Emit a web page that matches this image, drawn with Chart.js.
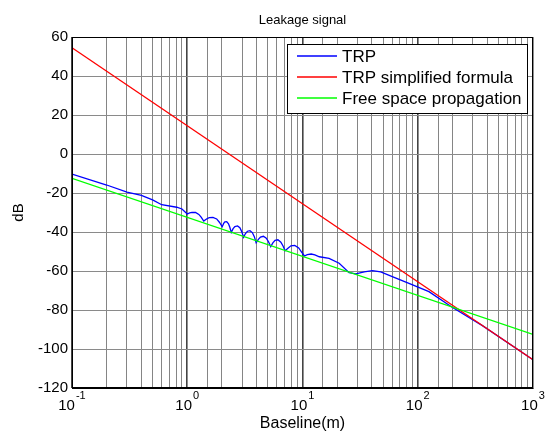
<!DOCTYPE html>
<html>
<head>
<meta charset="utf-8">
<script src="https://cdn.jsdelivr.net/npm/chart.js@4.4.0/dist/chart.umd.min.js"></script>
<style>
  html, body { margin: 0; padding: 0; background: #fff; }
  #wrap { width: 546px; height: 442px; }
</style>
</head>
<body>
<div id="wrap"><canvas id="leak"></canvas></div>
<script>
// TRP curve (baseline in m, level in dB)
const trpX = [0.1, 0.2, 0.3, 0.4, 0.5, 0.6, 0.81, 0.9, 1.0,
  1.05, 1.10, 1.18, 1.26, 1.32, 1.39,
  1.47, 1.55, 1.67, 1.80, 1.90, 2.01,
  2.07, 2.12, 2.20, 2.28, 2.34, 2.41,
  2.50, 2.59, 2.73, 2.86, 2.97, 3.08,
  3.20, 3.33, 3.50, 3.67, 3.82, 3.96,
  4.14, 4.32, 4.58, 4.85, 5.07, 5.30,
  5.53, 5.78, 6.12, 6.49, 6.78, 7.06,
  7.48, 7.93, 8.57, 9.27, 9.82, 10.4,
  11.0, 11.9, 12.8, 14.0, 17.0, 20.8, 25.4, 29.0, 34.3, 40.4, 47.7,
  60.1, 83.9, 125, 186, 199, 361, 1000];
const trpY = [-10.3, -15.9, -19.6, -21.2, -23.5, -26.0, -27.3, -28.2, -30.8,
  -30.2, -29.9, -30.0, -31.0, -32.4, -34.4,
  -33.3, -32.6, -32.5, -33.3, -35.0, -37.3,
  -35.6, -34.8, -34.7, -35.8, -37.6, -40.2,
  -38.3, -37.2, -36.9, -37.8, -39.8, -42.7,
  -40.8, -39.6, -39.3, -40.3, -42.4, -45.5,
  -43.8, -42.6, -42.2, -43.2, -45.0, -47.5,
  -45.6, -44.3, -44.0, -45.2, -47.2, -49.6,
  -48.3, -47.1, -46.9, -48.2, -50.3, -52.3,
  -51.6, -51.3, -51.7, -52.7, -53.5, -56.0, -60.9, -61.5, -60.4, -59.8, -60.5,
  -62.9, -66.3, -70.6, -77.4, -78.6, -87.9, -105.5];

// simplified formula and free space: straight lines on the log axis
const simpleX = [0.1, 1000];
const simpleY = [54.5, -105.5];
const freeX = [0.1, 1000];
const freeY = [-12.5, -92.5];

const seriesNames = ['TRP', 'TRP simplified formula', 'Free space propagation'];
const yTicks = [-120, -100, -80, -60, -40, -20, 0, 20, 40, 60];
const xDecades = [-1, 0, 1, 2, 3];

const FONT = '"Liberation Sans", Arial, sans-serif';

function pts(xs, ys) {
  return xs.map((v, i) => ({ x: v, y: ys[i] }));
}

function isDecade(c) {
  if (!c.tick) return false;
  const l = Math.log10(c.tick.value);
  return Math.abs(l - Math.round(l)) < 1e-6;
}

// frame, x labels with exponents, legend box
const matlabBits = {
  id: 'matlabBits',
  afterDraw(chart) {
    const { ctx, chartArea: a, scales: { x } } = chart;
    ctx.save();
    ctx.strokeStyle = '#000';
    ctx.lineWidth = 1;
    ctx.strokeRect(a.left + 0.5, a.top + 0.5, a.right - a.left - 1, a.bottom - a.top - 1);

    ctx.fillStyle = '#000';
    ctx.textBaseline = 'middle';
    ctx.textAlign = 'left';
    xDecades.forEach(e => {
      const px = x.getPixelForValue(Math.pow(10, e));
      ctx.font = '15px ' + FONT;
      const w = ctx.measureText('10').width;
      ctx.font = '11px ' + FONT;
      const we = ctx.measureText(String(e)).width;
      const x0 = px - (w + we + 1) / 2;
      ctx.font = '15px ' + FONT;
      ctx.fillText('10', x0, a.bottom + 18);
      ctx.font = '11px ' + FONT;
      ctx.fillText(String(e), x0 + w + 1, a.bottom + 8);
    });

    // legend
    const bx = a.right - 246, by = a.top + 7, bw = 240, bh = 69;
    ctx.fillStyle = '#fff';
    ctx.fillRect(bx, by, bw, bh);
    ctx.strokeStyle = '#000';
    ctx.strokeRect(bx + 0.5, by + 0.5, bw, bh);
    ctx.font = '17px ' + FONT;
    chart.data.datasets.forEach((ds, i) => {
      const y = by + 12 + i * 21;
      ctx.strokeStyle = ds.borderColor;
      ctx.lineWidth = 1.3;
      ctx.beginPath();
      ctx.moveTo(bx + 10, y);
      ctx.lineTo(bx + 50, y);
      ctx.stroke();
      ctx.fillStyle = '#000';
      ctx.fillText(ds.label, bx + 55, y + 1);
    });
    ctx.restore();
  }
};

new Chart(document.getElementById('leak'), {
  type: 'line',
  data: {
    datasets: [
      { label: seriesNames[0], data: pts(trpX, trpY), borderColor: '#0000ff', order: 2 },
      { label: seriesNames[1], data: pts(simpleX, simpleY), borderColor: '#ff0000', order: 1 },
      { label: seriesNames[2], data: pts(freeX, freeY), borderColor: '#00ff00', order: 0 }
    ]
  },
  options: {
    responsive: true,
    maintainAspectRatio: false,
    animation: false,
    devicePixelRatio: 1,
    layout: { padding: { left: 0, right: 13, top: 0, bottom: 0 } },
    elements: {
      point: { radius: 0 },
      line: { borderWidth: 1.3, tension: 0 }
    },
    plugins: {
      legend: { display: false },
      tooltip: { enabled: false },
      title: {
        display: true,
        text: 'Leakage signal',
        fullSize: false,
        color: '#000',
        font: { family: FONT, size: 13, weight: 'normal' },
        padding: { top: 13, bottom: 8.4 }
      }
    },
    scales: {
      x: {
        type: 'logarithmic',
        min: 0.1,
        max: 1000,
        afterFit: s => { s.height = 54; },
        ticks: { display: false },
        grid: {
          drawTicks: false,
          color: c => isDecade(c) ? '#444' : '#858585',
          lineWidth: c => isDecade(c) ? 1.6 : 1
        },
        border: { color: '#000' },
        title: {
          display: true,
          text: 'Baseline(m)',
          color: '#000',
          font: { family: FONT, size: 16 },
          padding: { top: 0, bottom: 9 }
        }
      },
      y: {
        min: -120,
        max: 60,
        afterFit: s => { s.width = 72; },
        afterBuildTicks: s => { s.ticks = yTicks.map(v => ({ value: v })); },
        ticks: {
          color: '#000',
          padding: 4,
          font: { family: FONT, size: 15 }
        },
        grid: { drawTicks: false, color: '#8a8a8a' },
        border: { color: '#000' },
        title: {
          display: true,
          text: 'dB',
          color: '#000',
          font: { family: FONT, size: 15 },
          padding: { top: 10, bottom: 0 }
        }
      }
    }
  },
  plugins: [matlabBits]
});
</script>
</body>
</html>
